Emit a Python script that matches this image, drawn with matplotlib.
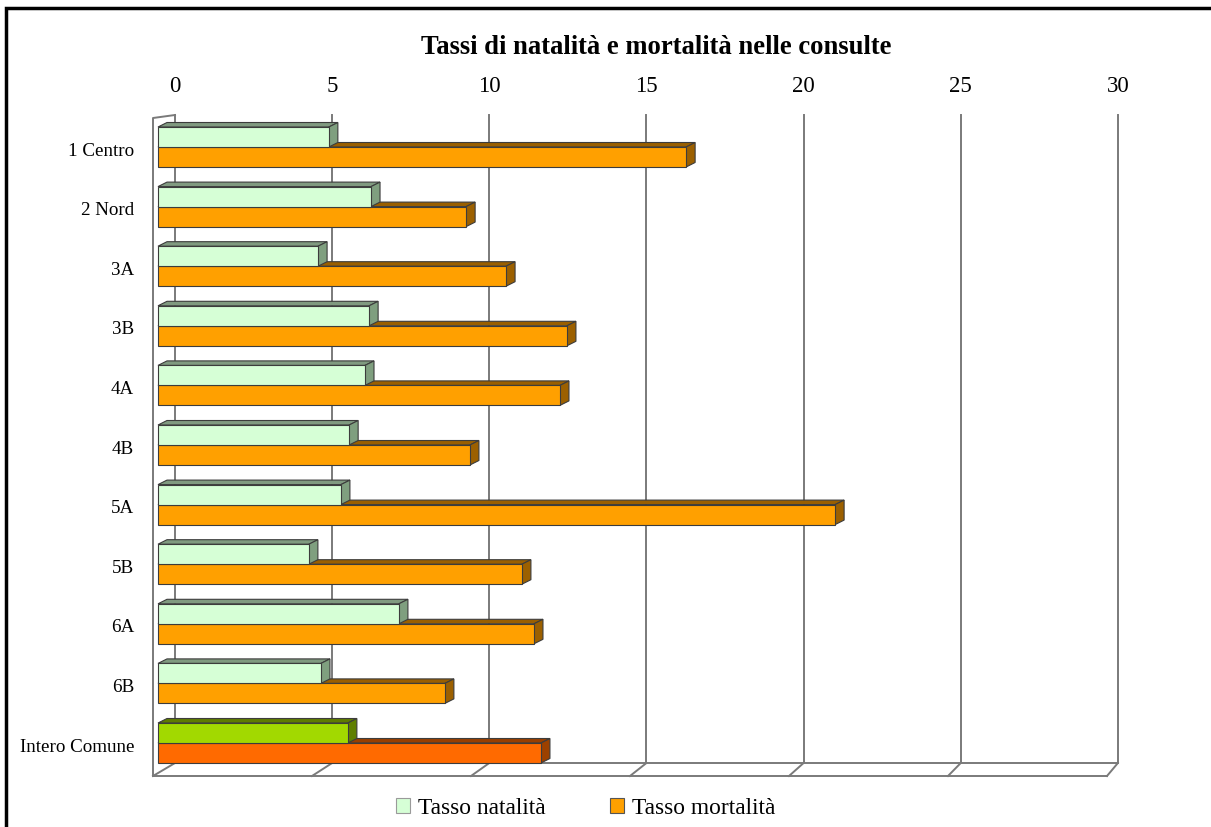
import numpy as np
import matplotlib
matplotlib.use("Agg")
import matplotlib.pyplot as plt
from matplotlib.patches import Polygon, Rectangle, Patch

# data
categories = ["1 Centro", "2 Nord", "3A", "3B", "4A", "4B", "5A", "5B", "6A", "6B", "Intero Comune"]
natalita = [5.39, 6.72, 5.05, 6.66, 6.53, 6.03, 5.77, 4.76, 7.60, 5.14, 5.99]
mortalita = [16.66, 9.72, 10.98, 12.90, 12.68, 9.84, 21.36, 11.48, 11.86, 9.05, 12.08]
ticks = [0, 5, 10, 15, 20, 25, 30]
title = "Tassi di natalità e mortalità nelle consulte"
legend_labels = ["Tasso natalità", "Tasso mortalità"]

# colours (front, side, top); last category uses the "total" colours
green = ("#d6ffd6", "#7f9f7f", "#809a80")
orange = ("#ffa000", "#9c6000", "#9a5f00")
green_tot = ("#a2d900", "#5f7f00", "#5e7c00")
orange_tot = ("#ff6a00", "#9c4100", "#993f00")
edge = "#3c3c3c"

W, H = 1211, 827
PX_X = 31.7      # pixels per unit at bar plane
PX_Y = 59.6      # pixels per category
X0, Y0 = 158, 147  # pixel of value 0 / first category

serif = ["Liberation Serif", "DejaVu Serif"]

fig = plt.figure(figsize=(W / 100, H / 100), dpi=100)
ax = fig.add_axes([0, 0, 1, 1])
ax.set_xlim(-X0 / PX_X, (W - X0) / PX_X)
ax.set_ylim((H - Y0) / PX_Y, -Y0 / PX_Y)
ax.axis("off")


def px2x(px):
    return (px - X0) / PX_X


def py2y(py):
    return (py - Y0) / PX_Y


# perspective of the walls
def back_x(v):
    return px2x(175 + 31.43 * v)


def front_x(v):
    return px2x(153 + 31.8 * v)


y_wall_top = py2y(115)
y_back_floor = py2y(763)
y_front_floor = py2y(776)
y_front_top = py2y(118)
gcol = "#7a7a7a"

# back wall gridlines
for t in ticks:
    ax.plot([back_x(t), back_x(t)], [y_wall_top, y_back_floor], color=gcol, lw=1.4, zorder=1)
    ax.text(back_x(t), py2y(87), str(t), ha="center", va="center", fontsize=16.5,
            family=serif, zorder=5)

# floor
ax.plot([back_x(0), back_x(30)], [y_back_floor] * 2, color=gcol, lw=1.4, zorder=1)
ax.plot([front_x(0), front_x(30)], [y_front_floor] * 2, color=gcol, lw=1.4, zorder=1)
for t in ticks:
    ax.plot([back_x(t), front_x(t)], [y_back_floor, y_front_floor], color=gcol, lw=1.4, zorder=1)
# left wall
ax.plot([front_x(0), front_x(0), back_x(0)], [y_front_floor, y_front_top, y_wall_top],
        color=gcol, lw=1.4, zorder=1)

bar_h = 20 / PX_Y
dx = 9 / PX_X
dy = 4.5 / PX_Y


def bar3d(v, ytop, cols):
    ybot = ytop + bar_h
    top = Polygon([(0, ytop), (v, ytop), (v + dx, ytop - dy), (dx, ytop - dy)],
                  closed=True, fc=cols[2], ec=edge, lw=0.8, zorder=3)
    side = Polygon([(v, ytop), (v + dx, ytop - dy), (v + dx, ybot - dy), (v, ybot)],
                   closed=True, fc=cols[1], ec=edge, lw=0.8, zorder=3)
    ax.add_patch(top)
    ax.add_patch(side)
    ax.barh(ytop, v, height=bar_h, align="edge", color=cols[0], edgecolor=edge,
            linewidth=0.8, zorder=3)


ypos = np.arange(len(categories))
for i, (cat, n, m) in enumerate(zip(categories, natalita, mortalita)):
    last = i == len(categories) - 1
    bar3d(m, ypos[i], orange_tot if last else orange)
    bar3d(n, ypos[i] - bar_h, green_tot if last else green)
    ax.text(px2x(134), ypos[i] + 4 / PX_Y, cat, ha="right", va="center",
            fontsize=13.7, family=serif)

ax.text(px2x(656), py2y(48), title, ha="center", va="center", fontsize=19.2,
        fontweight="bold", family=serif)

handles = [Patch(fc=green[0], ec="#9a9a9a", lw=0.8), Patch(fc=orange[0], ec="#555555", lw=0.8)]
fig.legend(handles, legend_labels, loc="center", bbox_to_anchor=(586 / W, 1 - 808 / H),
           ncol=2, frameon=False, handlelength=0.6, handleheight=0.6, handletextpad=0.34,
           columnspacing=2.75, borderpad=0, prop={"family": serif, "size": 16.8})

# outer frame
fig.add_artist(Rectangle((6 / W, -0.05), 1.1, 1.05 - 8 / H, transform=fig.transFigure,
                         fill=False, ec="black", lw=2.5, clip_on=False))

fig.savefig("out.png", dpi=100)
